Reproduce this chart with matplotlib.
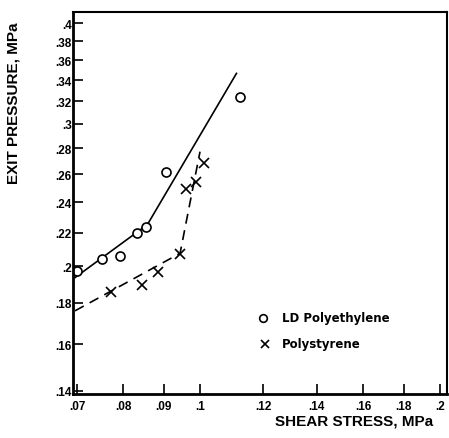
import matplotlib
matplotlib.use("Agg")
import matplotlib.pyplot as plt
from matplotlib.ticker import FixedLocator, FixedFormatter, NullLocator

# LD polyethylene: measured points and fitted curve
pe_shear = [0.0701, 0.0752, 0.0792, 0.0832, 0.0854, 0.0905, 0.1122]
pe_pressure = [0.197, 0.2038, 0.2058, 0.2195, 0.2236, 0.2614, 0.3236]
pe_fit_shear = [0.0696, 0.0858, 0.111]
pe_fit_pressure = [0.1935, 0.2251, 0.3466]

# polystyrene: measured points and fitted curve
ps_shear = [0.0772, 0.0845, 0.0885, 0.0943, 0.0959, 0.0988, 0.1010]
ps_pressure = [0.1858, 0.1893, 0.1966, 0.2071, 0.2491, 0.2539, 0.2682]
ps_fit_shear = [0.0696, 0.0943, 0.0999]
ps_fit_pressure = [0.176, 0.2074, 0.2772]

x_ticks = [0.07, 0.08, 0.09, 0.1, 0.12, 0.14, 0.16, 0.18, 0.2]
x_labels = [".07", ".08", ".09", ".1", ".12", ".14", ".16", ".18", ".2"]
y_ticks = [0.14, 0.16, 0.18, 0.2, 0.22, 0.24, 0.26, 0.28, 0.3, 0.32, 0.34, 0.36, 0.38, 0.4]
y_labels = [".14", ".16", ".18", ".2", ".22", ".24", ".26", ".28", ".3", ".32", ".34", ".36", ".38", ".4"]

plt.rcParams["font.family"] = ["Liberation Sans", "DejaVu Sans"]
plt.rcParams["font.weight"] = "bold"

fig = plt.figure(figsize=(4.49, 4.39), dpi=100)
ax = fig.add_axes([0.1626, 0.1002, 0.8329, 0.8702])

ax.plot(pe_fit_shear, pe_fit_pressure, color="black", lw=1.2)
ax.plot(ps_fit_shear, ps_fit_pressure, color="black", lw=1.2, dashes=(6, 4))
ax.plot(pe_shear, pe_pressure, "o", mfc="white", mec="black", mew=1.2, ms=6.5)
ax.plot(ps_shear, ps_pressure, "x", color="black", mew=1.2, ms=7)

ax.set_xscale("log")
ax.set_yscale("log")
ax.set_xlim(0.0692, 0.204)
ax.set_ylim(0.1388, 0.413)

ax.xaxis.set_major_locator(FixedLocator(x_ticks))
ax.xaxis.set_major_formatter(FixedFormatter(x_labels))
ax.xaxis.set_minor_locator(NullLocator())
ax.yaxis.set_major_locator(FixedLocator(y_ticks))
ax.yaxis.set_major_formatter(FixedFormatter(y_labels))
ax.yaxis.set_minor_locator(NullLocator())

ax.tick_params(axis="both", direction="in", length=7, width=1.2, labelsize=8.5)
ax.tick_params(axis="x", pad=4)
ax.tick_params(axis="y", pad=1)

for side in ["left", "bottom"]:
    ax.spines[side].set_linewidth(2)
for side in ["top", "right"]:
    ax.spines[side].set_linewidth(1.5)

# legend drawn by hand, like the original
ax.plot([0.1198], [0.1726], "o", mfc="white", mec="black", mew=1.2, ms=5.5)
ax.text(0.1266, 0.1726, "LD Polyethylene", fontsize=8.5, va="center", ha="left",
        family="DejaVu Sans")
ax.plot([0.1205], [0.1602], "x", color="black", mew=1.2, ms=6)
ax.text(0.1266, 0.1602, "Polystyrene", fontsize=8.5, va="center", ha="left",
        family="DejaVu Sans")

fig.text(0.789, 0.039, "SHEAR STRESS, MPa", fontsize=11, ha="center", va="center")
fig.text(0.031, 0.765, "EXIT PRESSURE, MPa", fontsize=11, ha="center", va="center", rotation=90)

fig.savefig("out.png", dpi=100)
